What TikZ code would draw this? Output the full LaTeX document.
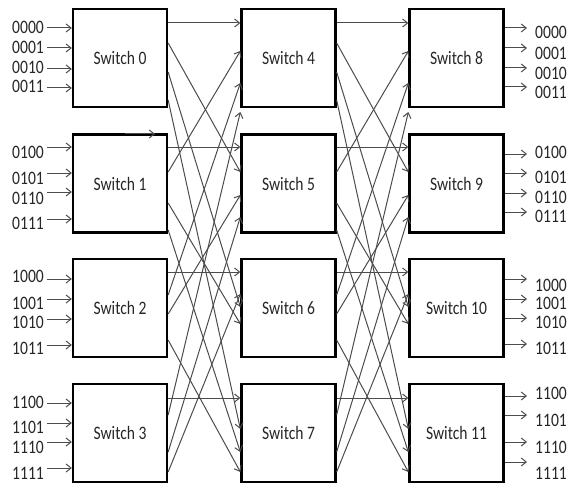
\documentclass[tikz,border=0pt]{standalone}
\usepackage{fontspec}
\setmainfont{Carlito}[FakeStretch=0.82]
\usetikzlibrary{arrows.meta}
\begin{document}
\begin{tikzpicture}[x=1pt,y=-1pt,
  font=\fontsize{19}{21}\selectfont,
  switchbox/.style={draw, line width=2.3pt, minimum width=94pt, minimum height=98pt, inner sep=0pt},
  link/.style={draw=black!70, line width=1pt, -{Straight Barb[length=5pt,width=8pt]}},
  portlabel/.style={inner sep=0pt, text=black!85}]
\useasboundingbox (0,0) rectangle (570,484);

% three columns of 4x4 switches
\foreach \n/\x/\y in {0/120/58, 1/120/183.5, 2/120/308, 3/120/433,
                      4/288.5/58, 5/288.5/183.5, 6/288.5/308, 7/288.5/433,
                      8/456.5/58, 9/456.5/183.5, 10/456.5/308, 11/456.5/433}
  \node[switchbox, text=black!85] (s\n) at (\x,\y) {Switch \n};

% inter-stage wiring (same pattern between both pairs of columns)
\foreach \a/\ya/\b/\yb in {0/23/4/23, 0/43/5/172, 0/72/6/307, 0/100/7/429,
                           1/147/5/147, 1/172/4/51, 1/203/6/324, 1/230/7/452,
                           2/272/6/272, 2/295/4/83, 2/314/5/195, 2/340/7/472,
                           3/398/7/398, 3/415/4/112, 3/452/5/217, 3/472/6/294} {
  \draw[link] (s\a.east |- 0,\ya) -- (s\b.west |- 0,\yb);
  \pgfmathtruncatemacro\c{\a+4}
  \pgfmathtruncatemacro\d{\b+4}
  \draw[link] (s\c.east |- 0,\ya) -- (s\d.west |- 0,\yb);
}

% inputs
\foreach \s/\ya/\yl/\t in {0/28/27/0000, 0/48/47/0001, 0/69/67/0010, 0/88/86/0011,
                           1/147/152/0100, 1/173/178/0101, 1/192/198/0110, 1/219/223/0111,
                           2/279/276/1000, 2/299/303/1001, 2/319/322/1010, 2/345/348/1011,
                           3/403/402/1100, 3/423/427/1101, 3/442/447/1110, 3/468/473/1111} {
  \coordinate (in\t) at (47,\ya);
  \node[portlabel, anchor=east] (inlab\t) at (44,\yl) {\t};
  \draw[link] (in\t) -- (s\s.west |- in\t);
}

% outputs
\foreach \s/\ya/\yl/\t in {8/28/32/0000, 8/48/53/0001, 8/68/73/0010, 8/87/92/0011,
                           9/154/152/0100, 9/173/177/0101, 9/193/197/0110, 9/212/216/0111,
                           10/279/285/1000, 10/299/303/1001, 10/318/322/1010, 10/344/348/1011,
                           11/396/393/1100, 11/415/420/1101, 11/442/447/1110, 11/462/473/1111} {
  \coordinate (out\t) at (527,\ya);
  \node[portlabel, anchor=west] (outlab\t) at (535,\yl) {\t};
  \draw[link] (s\s.east |- out\t) -- (out\t);
}

% stray arrow along the top edge of switch 1
\coordinate (strayA) at (125,134);
\coordinate (strayB) at (155,134);
\draw[link] (strayA) -- (strayB);
\end{tikzpicture}
\end{document}
